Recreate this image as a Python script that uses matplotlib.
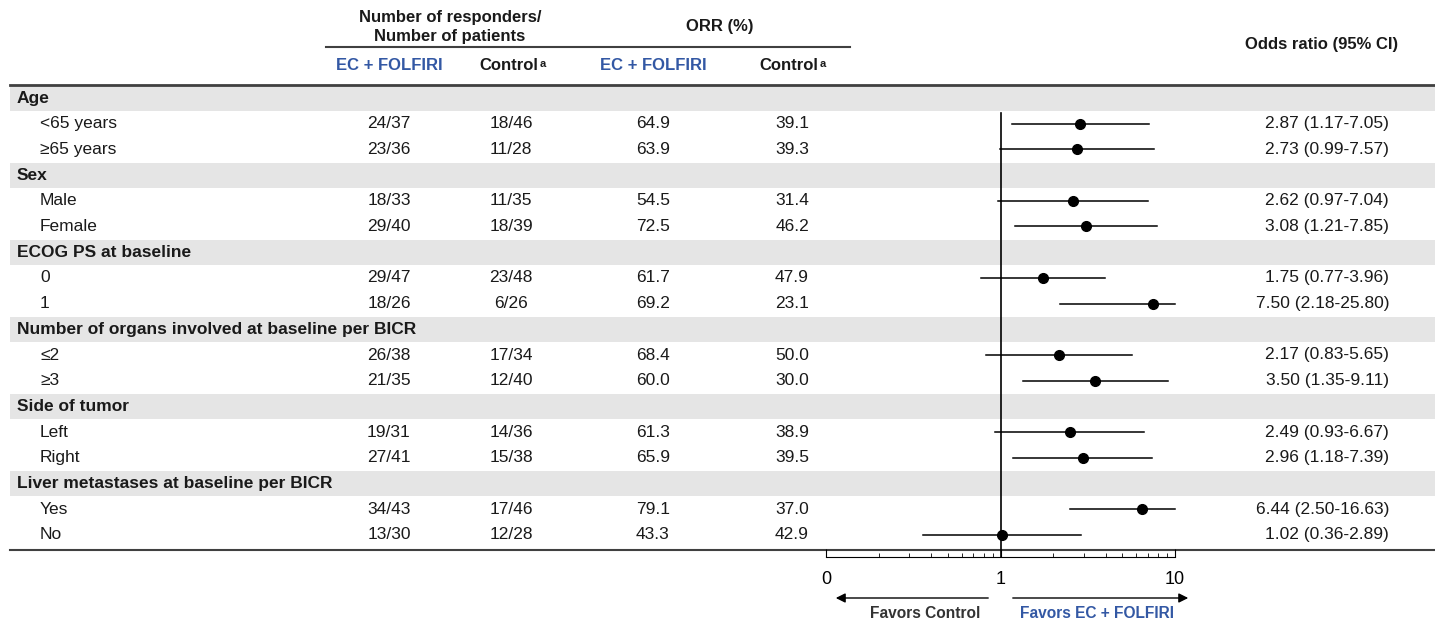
import numpy as np
import matplotlib.pyplot as plt

plt.rcParams['font.family'] = ['Liberation Sans', 'DejaVu Sans']

# subgroup table
labels = ['Age', '<65 years', '\u226565 years',
          'Sex', 'Male', 'Female',
          'ECOG PS at baseline', '0', '1',
          'Number of organs involved at baseline per BICR', '\u22642', '\u22653',
          'Side of tumor', 'Left', 'Right',
          'Liver metastases at baseline per BICR', 'Yes', 'No']
is_header = [True, False, False, True, False, False, True, False, False,
             True, False, False, True, False, False, True, False, False]
resp_ec = ['', '24/37', '23/36', '', '18/33', '29/40', '', '29/47', '18/26',
           '', '26/38', '21/35', '', '19/31', '27/41', '', '34/43', '13/30']
resp_ctrl = ['', '18/46', '11/28', '', '11/35', '18/39', '', '23/48', '6/26',
             '', '17/34', '12/40', '', '14/36', '15/38', '', '17/46', '12/28']
orr_ec = [None, 64.9, 63.9, None, 54.5, 72.5, None, 61.7, 69.2,
          None, 68.4, 60.0, None, 61.3, 65.9, None, 79.1, 43.3]
orr_ctrl = [None, 39.1, 39.3, None, 31.4, 46.2, None, 47.9, 23.1,
            None, 50.0, 30.0, None, 38.9, 39.5, None, 37.0, 42.9]
odds = [None, 2.87, 2.73, None, 2.62, 3.08, None, 1.75, 7.50,
        None, 2.17, 3.50, None, 2.49, 2.96, None, 6.44, 1.02]
ci_lo = [None, 1.17, 0.99, None, 0.97, 1.21, None, 0.77, 2.18,
         None, 0.83, 1.35, None, 0.93, 1.18, None, 2.50, 0.36]
ci_hi = [None, 7.05, 7.57, None, 7.04, 7.85, None, 3.96, 25.80,
         None, 5.65, 9.11, None, 6.67, 7.39, None, 16.63, 2.89]

W, H = 1435, 621
BLUE = '#3358a4'
TXT = '#1a1a1a'
RULE = '#404040'
BAND = '#e5e5e5'
FS = 12.5
FS_HEAD = 12

row_y0, row_h = 98, 25.7

fig = plt.figure(figsize=(W / 100, H / 100), dpi=100)

# background axes in pixel units for table text, bands and rules
bg = fig.add_axes([0, 0, 1, 1])
bg.set_xlim(0, W)
bg.set_ylim(H, 0)
bg.axis('off')

for i, lab in enumerate(labels):
    y = row_y0 + row_h * i
    if is_header[i]:
        bg.add_patch(plt.Rectangle((10, y - 12.5), W - 10, 25, color=BAND, lw=0, zorder=0))
        bg.text(17, y, lab, fontsize=FS, fontweight='bold', color=TXT, va='center')
        continue
    bg.text(40, y, lab, fontsize=FS, color=TXT, va='center')
    bg.text(389, y, resp_ec[i], fontsize=FS, color=TXT, ha='center', va='center')
    bg.text(511, y, resp_ctrl[i], fontsize=FS, color=TXT, ha='center', va='center')
    bg.text(653, y, f'{orr_ec[i]:.1f}', fontsize=FS, color=TXT, ha='center', va='center')
    bg.text(792, y, f'{orr_ctrl[i]:.1f}', fontsize=FS, color=TXT, ha='center', va='center')
    bg.text(1389, y, f'{odds[i]:.2f} ({ci_lo[i]:.2f}-{ci_hi[i]:.2f})',
            fontsize=FS, color=TXT, ha='right', va='center')

# column headers
bg.text(450, 27, 'Number of responders/\nNumber of patients', fontsize=FS_HEAD,
        fontweight='bold', color=TXT, ha='center', va='center', linespacing=1.4)
bg.text(720, 26, 'ORR (%)', fontsize=FS_HEAD, fontweight='bold', color=TXT,
        ha='center', va='center')
bg.plot([326, 850], [47, 47], color=RULE, lw=1.5)
for x in [389, 653]:
    bg.text(x, 66, 'EC + FOLFIRI', fontsize=FS_HEAD, fontweight='bold', color=BLUE,
            ha='center', va='center')
for x in [509, 789]:
    t = bg.text(x, 66, 'Control', fontsize=FS_HEAD, fontweight='bold', color=TXT,
                ha='center', va='center')
    bg.annotate('a', xy=(1.0, 0.95), xycoords=t, xytext=(1, 0), textcoords='offset points',
                fontsize=8, fontweight='bold', color=TXT, ha='left', va='top')
bg.text(1322, 45, 'Odds ratio (95% CI)', fontsize=FS_HEAD, fontweight='bold', color=TXT,
        ha='center', va='center')

# top and bottom rules
bg.plot([10, W], [85, 85], color=RULE, lw=2, zorder=3)
bg.plot([10, W], [550, 550], color=RULE, lw=1.5, zorder=3)

# favours arrows
bg.annotate('', xy=(833, 598), xytext=(991, 598),
            arrowprops=dict(arrowstyle='-|>', color='black', lw=1, mutation_scale=14))
bg.annotate('', xy=(1191, 598), xytext=(1010, 598),
            arrowprops=dict(arrowstyle='-|>', color='black', lw=1, mutation_scale=14))
bg.text(925, 614, 'Favors Control', fontsize=11.2, fontweight='bold', color='#333333',
        ha='center', va='center')
bg.text(1097, 614, 'Favors EC + FOLFIRI', fontsize=11.2, fontweight='bold', color=BLUE,
        ha='center', va='center')

# forest plot on log scale
ax_left, ax_right, ax_top, ax_bot = 826, 1175, 85, 557
ax = fig.add_axes([ax_left / W, 1 - ax_bot / H, (ax_right - ax_left) / W,
                   (ax_bot - ax_top) / H])
ax.patch.set_visible(False)
ax.set_xscale('log')
ax.set_xlim(0.1, 10)
ax.set_ylim((ax_bot - row_y0) / row_h, (ax_top - row_y0) / row_h)

rows = [i for i in range(len(labels)) if odds[i] is not None]
for i in rows:
    lo, hi = max(ci_lo[i], 0.1), min(ci_hi[i], 10)
    ax.plot([lo, hi], [i, i], color='black', lw=1.1, clip_on=False)
    ax.plot(odds[i], i, 'o', color='black', markersize=7, clip_on=False)
ax.plot([1, 1], [0.58, (ax_bot - row_y0) / row_h], color='black', lw=1.2)

for s in ['top', 'left', 'right']:
    ax.spines[s].set_visible(False)
ax.spines['bottom'].set_linewidth(0.8)
ax.set_yticks([])
ax.set_xticks([0.1, 1, 10])
ax.set_xticklabels(['0', '1', '10'], fontsize=13)
ax.tick_params(axis='x', which='major', direction='in', length=6, width=0.8, pad=10)
ax.tick_params(axis='x', which='minor', direction='in', length=3, width=0.6)
ax.xaxis.set_minor_formatter(plt.NullFormatter())

fig.savefig('out.png', dpi=100)
